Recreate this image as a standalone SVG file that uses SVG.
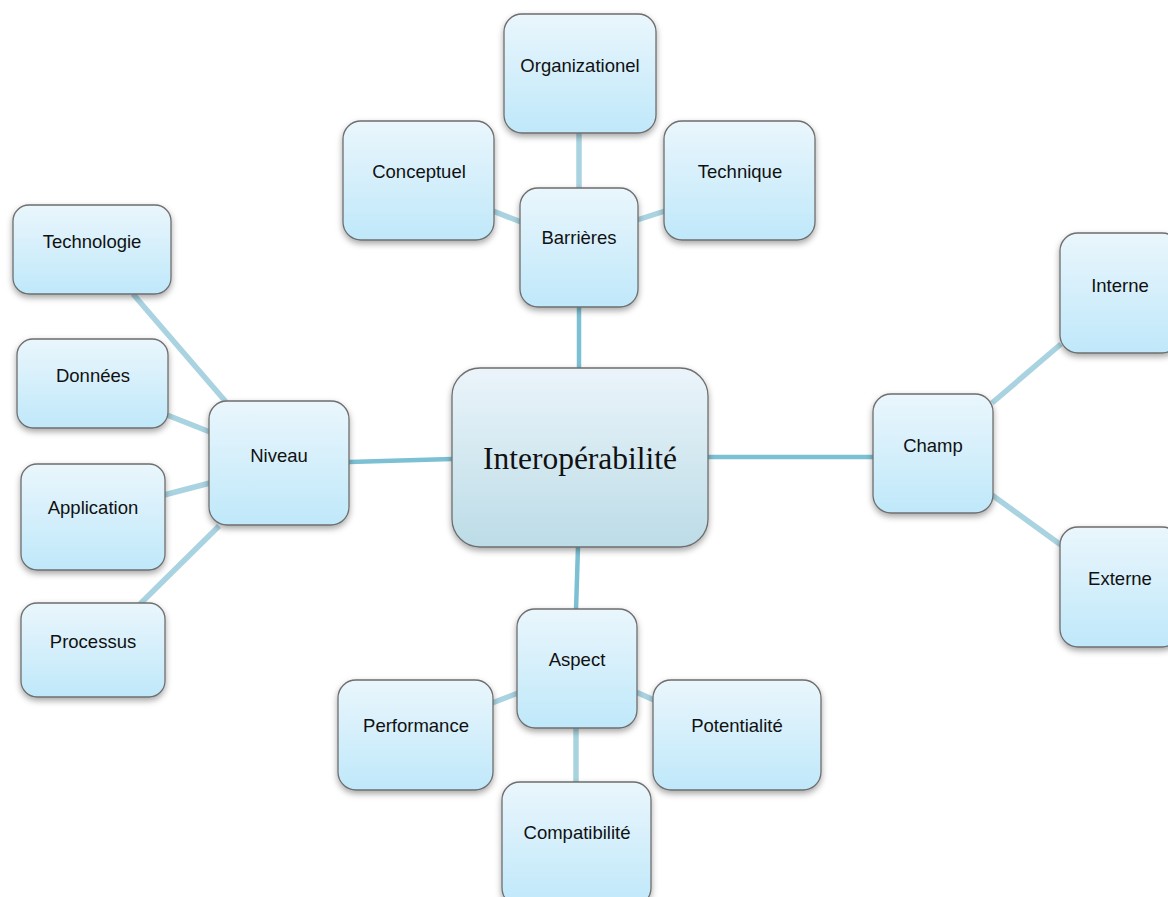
<svg xmlns="http://www.w3.org/2000/svg" width="1168" height="897" viewBox="0 0 1168 897">
<defs>
<linearGradient id="gLeaf" x1="0" y1="0" x2="0" y2="1">
<stop offset="0" stop-color="#eaf6fc"/>
<stop offset="1" stop-color="#bfe8fa"/>
</linearGradient>
<linearGradient id="gCenter" x1="0" y1="0" x2="0" y2="1">
<stop offset="0" stop-color="#ebf4fa"/>
<stop offset="1" stop-color="#bcdce7"/>
</linearGradient>
<filter id="sh" x="-20%" y="-20%" width="140%" height="150%">
<feDropShadow dx="0" dy="3" stdDeviation="3" flood-color="#000" flood-opacity="0.35"/>
</filter>
</defs>
<style>
.box{fill:url(#gLeaf);stroke:#6e6e6e;stroke-width:1.3;filter:url(#sh)}
.center{fill:url(#gCenter);stroke:#6e6e6e;stroke-width:1.3;filter:url(#sh)}
.lbl{font-family:"Liberation Sans",Arial,sans-serif;font-size:18.5px;fill:#111;text-anchor:middle}
.big{font-family:"Liberation Serif","Times New Roman",serif;font-size:31.5px;fill:#111;text-anchor:middle}
.main{stroke:#7cc0d4;stroke-width:4.5;fill:none}
.leaf{stroke:#a9d3e0;stroke-width:5.5;fill:none}
</style>
<rect width="1168" height="897" fill="#fff"/>
<g id="connectors">
<line class="main" x1="579" y1="305" x2="579" y2="370"/>
<line class="main" x1="349" y1="462" x2="452" y2="459"/>
<line class="main" x1="707" y1="457" x2="874" y2="457"/>
<line class="main" x1="578" y1="547" x2="576" y2="610"/>
<line class="leaf" x1="579" y1="132" x2="579" y2="189"/>
<line class="leaf" x1="493" y1="211" x2="521" y2="222"/>
<line class="leaf" x1="637" y1="220" x2="665" y2="211"/>
<line class="leaf" x1="133" y1="294" x2="226" y2="402"/>
<line class="leaf" x1="167" y1="415" x2="210" y2="432"/>
<line class="leaf" x1="164" y1="495" x2="210" y2="483"/>
<line class="leaf" x1="140" y1="604" x2="219" y2="526"/>
<line class="leaf" x1="992" y1="403" x2="1061" y2="344"/>
<line class="leaf" x1="992" y1="495" x2="1061" y2="545"/>
<line class="leaf" x1="492" y1="703" x2="518" y2="693"/>
<line class="leaf" x1="636" y1="692" x2="654" y2="700"/>
<line class="leaf" x1="576" y1="727" x2="576" y2="783"/>
</g>
<g id="n-interop"><rect class="center" x="452" y="368" width="256" height="179" rx="28"/><text class="big" x="580" y="469">Interopérabilité</text></g>
<g id="n-barrieres"><rect class="box" x="520" y="188" width="118" height="119" rx="18"/><text class="lbl" x="579" y="244">Barrières</text></g>
<g id="n-organizationel"><rect class="box" x="504" y="14" width="152" height="119" rx="18"/><text class="lbl" x="580" y="72">Organizationel</text></g>
<g id="n-conceptuel"><rect class="box" x="343" y="121" width="151" height="119" rx="18"/><text class="lbl" x="419" y="178">Conceptuel</text></g>
<g id="n-technique"><rect class="box" x="664" y="121" width="151" height="119" rx="18"/><text class="lbl" x="740" y="178">Technique</text></g>
<g id="n-niveau"><rect class="box" x="209" y="401" width="140" height="124" rx="18"/><text class="lbl" x="279" y="462">Niveau</text></g>
<g id="n-technologie"><rect class="box" x="13" y="205" width="158" height="89" rx="16"/><text class="lbl" x="92" y="248">Technologie</text></g>
<g id="n-donnees"><rect class="box" x="17" y="339" width="151" height="89" rx="16"/><text class="lbl" x="93" y="382">Données</text></g>
<g id="n-application"><rect class="box" x="21" y="464" width="144" height="106" rx="16"/><text class="lbl" x="93" y="514">Application</text></g>
<g id="n-processus"><rect class="box" x="21" y="603" width="144" height="94" rx="16"/><text class="lbl" x="93" y="648">Processus</text></g>
<g id="n-champ"><rect class="box" x="873" y="394" width="120" height="119" rx="18"/><text class="lbl" x="933" y="452">Champ</text></g>
<g id="n-interne"><rect class="box" x="1060" y="233" width="120" height="120" rx="18"/><text class="lbl" x="1120" y="292">Interne</text></g>
<g id="n-externe"><rect class="box" x="1060" y="527" width="120" height="120" rx="18"/><text class="lbl" x="1120" y="585">Externe</text></g>
<g id="n-aspect"><rect class="box" x="517" y="609" width="120" height="119" rx="18"/><text class="lbl" x="577" y="666">Aspect</text></g>
<g id="n-performance"><rect class="box" x="338" y="680" width="155" height="110" rx="18"/><text class="lbl" x="416" y="732">Performance</text></g>
<g id="n-potentialite"><rect class="box" x="653" y="680" width="168" height="110" rx="18"/><text class="lbl" x="737" y="732">Potentialité</text></g>
<g id="n-compatibilite"><rect class="box" x="502" y="782" width="149" height="124" rx="18"/><text class="lbl" x="577" y="839">Compatibilité</text></g>
</svg>
